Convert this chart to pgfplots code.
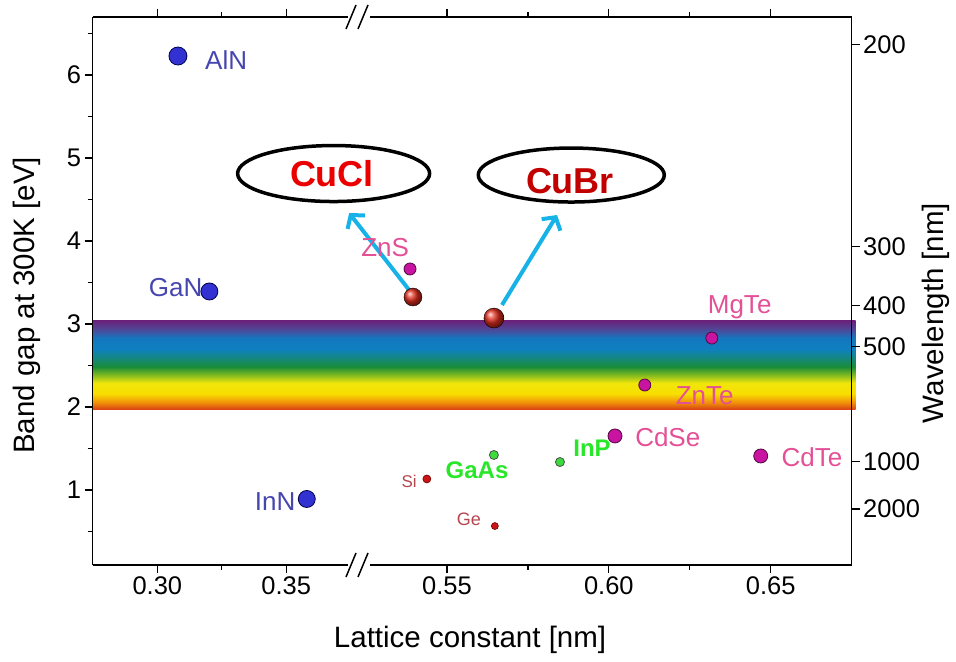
\documentclass[border=0pt]{standalone}
\usepackage{fontspec}
\setmainfont{Liberation Sans}
\usepackage{pgfplots}
\pgfplotsset{compat=1.18}
\usetikzlibrary{arrows.meta}

\definecolor{bandc0}{RGB}{214,60,20}
\definecolor{bandc1}{RGB}{240,140,10}
\definecolor{bandc2}{RGB}{248,222,0}
\definecolor{bandc3}{RGB}{240,230,10}
\definecolor{bandc4}{RGB}{140,190,30}
\definecolor{bandc5}{RGB}{25,140,55}
\definecolor{bandc6}{RGB}{20,135,130}
\definecolor{bandc7}{RGB}{15,128,192}
\definecolor{bandc8}{RGB}{20,118,190}
\definecolor{bandc9}{RGB}{80,70,150}
\definecolor{bandc10}{RGB}{108,30,120}
\definecolor{bluedot}{RGB}{50,50,210}
\definecolor{bluelab}{RGB}{70,70,175}
\definecolor{magdot}{RGB}{200,20,160}
\definecolor{pinklab}{RGB}{228,80,150}
\definecolor{greendot}{RGB}{60,220,60}
\definecolor{greenlab}{RGB}{40,230,40}
\definecolor{reddot}{RGB}{205,20,20}
\definecolor{redlab}{RGB}{180,70,80}
\definecolor{arrowc}{RGB}{22,178,232}
\definecolor{cuclred}{RGB}{235,0,0}
\definecolor{cubrred}{RGB}{195,0,0}

\pgfdeclareverticalshading{rainbow}{100bp}{color(0bp)=(bandc0); color(25bp)=(bandc0); color(29bp)=(bandc1); color(34bp)=(bandc2); color(40bp)=(bandc3); color(44bp)=(bandc4); color(49bp)=(bandc5); color(54bp)=(bandc6); color(59bp)=(bandc7); color(65bp)=(bandc8); color(70bp)=(bandc9); color(75bp)=(bandc10); color(100bp)=(bandc10)}

\pgfplotsset{common/.style={
  scale only axis, height=548bp, ymin=0.0964, ymax=6.699,
  axis on top, clip=false,
  tick align=outside, major tick length=8bp, minor tick length=5bp,
  axis line style={line width=1.4bp},
  tick style={black, line width=1.2bp},
  ticklabel style={font=\fontsize{25.5bp}{29bp}\selectfont},
  label style={font=\fontsize{29.5bp}{34bp}\selectfont},
  /pgf/number format/assume math mode=true,
  xticklabel style={/pgf/number format/.cd, fixed, fixed zerofill, precision=2},
  xticklabel pos=lower,
}}

\begin{document}
\begin{tikzpicture}
\useasboundingbox (0,0) rectangle (956bp,662bp);

% ---------- left segment ----------
\begin{axis}[common, at={(92.7bp,97bp)}, anchor=south west, width=265.3bp,
  xmin=0.27492, xmax=0.37787,
  axis x line*=box, axis y line*=left,
  xtick={0.30,0.35}, minor xtick={0.325},
  ytick={1,2,3,4,5,6}, minor ytick={0.5,1.5,2.5,3.5,4.5,5.5,6.5},
  ylabel={Band gap at 300K [eV]},
  ylabel style={at={(axis description cs:-0.2477,0.474)}, anchor=center, rotate=0},
]
\shade[shading=rainbow] (axis cs:0.27492,1.964) rectangle (axis cs:0.37787,3.048);
\addplot[only marks, mark=*, mark size=9bp, mark options={fill=bluedot, draw=black!70!blue, line width=0.8bp}] coordinates {(0.3080,6.229)};
\addplot[only marks, mark=*, mark size=8.5bp, mark options={fill=bluedot, draw=black!70!blue, line width=0.8bp}] coordinates {(0.3202,3.392)(0.3580,0.892)};
\node[text=bluelab, font=\fontsize{26bp}{30bp}\selectfont] at (axis cs:0.3267,6.18) {AlN};
\node[text=bluelab, font=\fontsize{26bp}{30bp}\selectfont] at (axis cs:0.3071,3.434) {GaN};
\node[text=bluelab, font=\fontsize{26bp}{30bp}\selectfont] at (axis cs:0.3457,0.855) {InN};
\end{axis}

% ---------- right segment ----------
\begin{axis}[common, at={(358bp,97bp)}, anchor=south west, width=493.7bp,
  xmin=0.52253, xmax=0.675,
  axis x line*=box, axis y line*=right,
  xtick={0.55,0.60,0.65}, minor xtick={0.575,0.625},
  ytick={6.37,3.93,3.22,2.73,1.34,0.77},
  yticklabels={200,300,400,500,1000,2000},
  ylabel={Wavelength [nm]},
  ylabel style={at={(axis description cs:1.1707,0.46)}, anchor=center, rotate=0},
  xlabel={Lattice constant [nm]},
  xlabel style={at={(axis description cs:0.227,-0.137)}, anchor=center},
]
\shade[shading=rainbow] (axis cs:0.52253,1.964) rectangle (axis cs:0.6762,3.048);
% arrows
\draw[line width=4bp, arrowc, -{Straight Barb[length=9bp, width=22bp, line width=4bp]}] (axis cs:0.5383,3.410) -- (axis cs:0.5198,4.337);
\draw[line width=4bp, arrowc, -{Straight Barb[length=9bp, width=22bp, line width=4bp]}] (axis cs:0.5670,3.229) -- (axis cs:0.5840,4.313);
% ellipses
\draw[line width=3.5bp, black] (axis cs:0.515,4.813) ellipse [x radius=96bp, y radius=28bp];
\draw[line width=3.5bp, black] (axis cs:0.5884,4.795) ellipse [x radius=93bp, y radius=27bp];
\node[text=cuclred, font=\bfseries\fontsize{36bp}{40bp}\selectfont] at (axis cs:0.5145,4.813) {CuCl};
\node[text=cubrred, font=\bfseries\fontsize{36bp}{40bp}\selectfont] at (axis cs:0.5880,4.72) {CuBr};
% magenta II-VI
\addplot[only marks, mark=*, mark size=6bp, mark options={fill=magdot, draw=black!60!magdot, line width=0.8bp}] coordinates {(0.5386,3.663)(0.6318,2.831)(0.6111,2.265)};
\addplot[only marks, mark=*, mark size=7bp, mark options={fill=magdot, draw=black!60!magdot, line width=0.8bp}] coordinates {(0.6019,1.651)(0.6469,1.410)};
% green III-V
\addplot[only marks, mark=*, mark size=4.5bp, mark options={fill=greendot, draw=black!70, line width=0.8bp}] coordinates {(0.5645,1.422)(0.5849,1.337)};
% Si, Ge
\addplot[only marks, mark=*, mark size=4bp, mark options={fill=reddot, draw=black!60!red, line width=0.6bp}] coordinates {(0.5438,1.133)};
\addplot[only marks, mark=*, mark size=3.5bp, mark options={fill=reddot, draw=black!60!red, line width=0.6bp}] coordinates {(0.5648,0.566)};
% CuCl, CuBr
\addplot[only marks, mark=ball, mark size=9bp, mark options={ball color={rgb,255:red,225;green,45;blue,30}}] coordinates {(0.5395,3.325)};
\addplot[only marks, mark=ball, mark size=10bp, mark options={ball color={rgb,255:red,225;green,45;blue,30}}] coordinates {(0.5645,3.072)};
% labels
\node[text=pinklab, font=\fontsize{26bp}{30bp}\selectfont] at (axis cs:0.5309,3.916) {ZnS};
\node[text=pinklab, font=\fontsize{26bp}{30bp}\selectfont] at (axis cs:0.6404,3.205) {MgTe};
\node[text=pinklab, font=\fontsize{26bp}{30bp}\selectfont] at (axis cs:0.6296,2.133) {ZnTe};
\node[text=pinklab, font=\fontsize{26bp}{30bp}\selectfont] at (axis cs:0.6182,1.639) {CdSe};
\node[text=pinklab, font=\fontsize{26bp}{30bp}\selectfont] at (axis cs:0.6627,1.398) {CdTe};
\node[text=greenlab, font=\bfseries\fontsize{24bp}{28bp}\selectfont] at (axis cs:0.5948,1.506) {InP};
\node[text=greenlab, font=\bfseries\fontsize{24bp}{28bp}\selectfont] at (axis cs:0.5593,1.241) {GaAs};
\node[text=redlab, font=\fontsize{17bp}{20bp}\selectfont] at (axis cs:0.5383,1.108) {Si};
\node[text=redlab, font=\fontsize{18bp}{21bp}\selectfont] at (axis cs:0.5568,0.651) {Ge};
\end{axis}

% axis breaks
\fill[white] (348bp,91bp) rectangle (370bp,103bp);
\fill[white] (348bp,639bp) rectangle (370bp,651bp);
\draw[line width=1.5bp] (346bp,85bp) -- (356bp,109bp);
\draw[line width=1.5bp] (358bp,85bp) -- (368bp,109bp);
\draw[line width=1.5bp] (346bp,633bp) -- (356bp,657bp);
\draw[line width=1.5bp] (358bp,633bp) -- (368bp,657bp);
\end{tikzpicture}
\end{document}
